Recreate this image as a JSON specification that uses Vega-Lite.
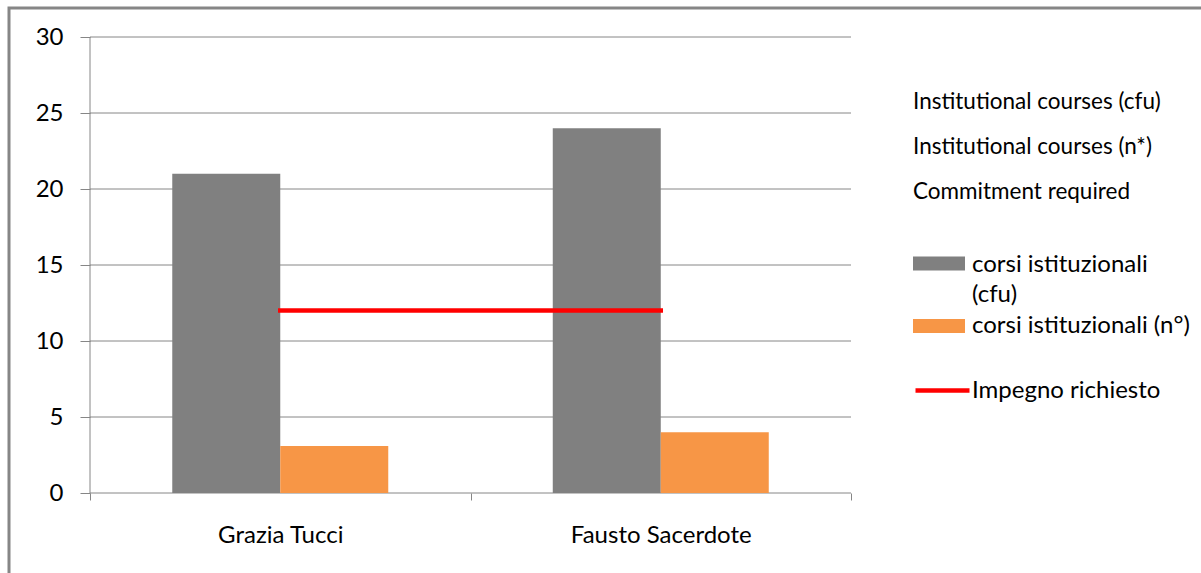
{
  "$schema": "https://vega.github.io/schema/vega-lite/v6.json",
  "width": 1202,
  "height": 575,
  "autosize": {"type": "none"},
  "padding": {"left": 9, "top": 8, "right": -10, "bottom": -10},
  "background": "white",
  "config": {
    "font": "Lato",
    "view": {"stroke": "#868686", "strokeWidth": 3}
  },
  "datasets": {
    "corsi": [
      {"persona": "Grazia Tucci", "serie": "corsi istituzionali (cfu)", "valore": 21},
      {"persona": "Grazia Tucci", "serie": "corsi istituzionali (n°)", "valore": 3.1},
      {"persona": "Fausto Sacerdote", "serie": "corsi istituzionali (cfu)", "valore": 24},
      {"persona": "Fausto Sacerdote", "serie": "corsi istituzionali (n°)", "valore": 4}
    ],
    "impegno": [
      {"persona": "Grazia Tucci", "serie": "Impegno richiesto", "valore": 12},
      {"persona": "Fausto Sacerdote", "serie": "Impegno richiesto", "valore": 12}
    ],
    "griglia": [{"v": 0}, {"v": 5}, {"v": 10}, {"v": 15}, {"v": 20}, {"v": 25}, {"v": 30}]
  },
  "layer": [
    {
      "data": {"name": "griglia"},
      "mark": {"type": "rule", "color": "#868686", "strokeWidth": 1},
      "encoding": {
        "y": {
          "field": "v",
          "type": "quantitative",
          "scale": {"domain": [-5.921, 31.908], "nice": false, "zero": false},
          "axis": {
            "values": [0, 5, 10, 15, 20, 25, 30],
            "orient": "left",
            "offset": -81,
            "domain": false,
            "grid": false,
            "tickSize": 10,
            "tickColor": "#868686",
            "labelFontSize": 24,
            "labelPadding": 17,
            "labelColor": "#000000",
            "title": null
          }
        },
        "x": {
          "datum": "Grazia Tucci",
          "type": "nominal",
          "bandPosition": 0,
          "scale": {"domain": ["Grazia Tucci", "Fausto Sacerdote"], "paddingInner": 0, "paddingOuter": 0.5795, "align": 0.1837}
        },
        "x2": {"datum": "Fausto Sacerdote", "bandPosition": 1}
      }
    },
    {
      "data": {"name": "corsi"},
      "transform": [{"filter": "datum.serie == 'corsi istituzionali (cfu)'"}],
      "mark": {"type": "bar"},
      "encoding": {
        "x": {
          "field": "persona",
          "type": "nominal",
          "scale": {"domain": ["Grazia Tucci", "Fausto Sacerdote"], "paddingInner": 0, "paddingOuter": 0.5795, "align": 0.1837},
          "axis": {
            "orient": "bottom",
            "offset": -90,
            "domain": false,
            "grid": false,
            "tickBand": "extent",
            "tickSize": 7,
            "tickColor": "#868686",
            "labelFontSize": 24,
            "labelPadding": 35,
            "labelColor": "#000000",
            "labelAngle": 0,
            "labelAlign": "center",
            "labelLimit": 0,
            "title": null
          }
        },
        "xOffset": {
          "field": "serie",
          "type": "nominal",
          "scale": {"domain": ["corsi istituzionali (cfu)", "corsi istituzionali (n°)"], "paddingInner": 0, "paddingOuter": 0.7616}
        },
        "y": {"field": "valore", "type": "quantitative", "stack": null},
        "y2": {"datum": 0},
        "color": {
          "field": "serie",
          "type": "nominal",
          "scale": {"domain": ["corsi istituzionali (cfu)"], "range": ["#808080"]},
          "legend": {
            "orient": "none",
            "legendX": 904,
            "legendY": 83,
            "padding": 0,
            "title": ["Institutional courses (cfu)", "Institutional courses (n*)", "Commitment required"],
            "titleFontSize": 22.5,
            "titleFontWeight": "normal",
            "titleLineHeight": 45,
            "titleColor": "#000000",
            "titlePadding": 34,
            "titleLimit": 0,
            "symbolType": "M-1,-0.27H1V0.27H-1Z",
            "symbolSize": 2704,
            "symbolStrokeWidth": 0,
            "symbolOpacity": 1,
            "labelFontSize": 24,
            "labelColor": "#000000",
            "labelOffset": 7,
            "labelBaseline": "alphabetic",
            "labelLimit": 0,
            "labelExpr": "['corsi istituzionali', '(cfu)']",
            "encode": {"labels": {"update": {"dy": {"value": 8}, "lineHeight": {"value": 30}}}}
          }
        }
      }
    },
    {
      "data": {"name": "corsi"},
      "transform": [{"filter": "datum.serie == 'corsi istituzionali (n°)'"}],
      "mark": {"type": "bar"},
      "encoding": {
        "x": {"field": "persona", "type": "nominal"},
        "xOffset": {"field": "serie", "type": "nominal"},
        "y": {"field": "valore", "type": "quantitative", "stack": null},
        "y2": {"datum": 0},
        "fill": {
          "field": "serie",
          "type": "nominal",
          "scale": {"domain": ["corsi istituzionali (n°)"], "range": ["#F79646"]},
          "legend": {
            "orient": "none",
            "legendX": 904,
            "legendY": 292,
            "padding": 0,
            "title": null,
            "symbolType": "M-1,-0.27H1V0.27H-1Z",
            "symbolSize": 2704,
            "symbolStrokeWidth": 0,
            "symbolOpacity": 1,
            "labelFontSize": 24,
            "labelColor": "#000000",
            "labelOffset": 7,
            "labelLimit": 0
          }
        }
      }
    },
    {
      "data": {"name": "impegno"},
      "mark": {"type": "line", "strokeWidth": 4.5, "strokeCap": "square"},
      "encoding": {
        "x": {"field": "persona", "type": "nominal"},
        "y": {"field": "valore", "type": "quantitative"},
        "stroke": {
          "field": "serie",
          "type": "nominal",
          "scale": {"range": ["#FF0000"]},
          "legend": {
            "orient": "none",
            "legendX": 904,
            "legendY": 353,
            "padding": 0,
            "title": null,
            "symbolType": "stroke",
            "symbolSize": 2916,
            "symbolStrokeWidth": 4.5,
            "labelFontSize": 24,
            "labelColor": "#000000",
            "labelOffset": 0,
            "labelLimit": 0
          }
        }
      }
    },
    {
      "data": {"values": [{"asse": "y"}]},
      "mark": {"type": "rule", "color": "#868686", "strokeWidth": 1},
      "encoding": {
        "x": {"datum": "Grazia Tucci", "type": "nominal", "bandPosition": 0},
        "y": {"datum": 0, "type": "quantitative"},
        "y2": {"datum": 30}
      }
    }
  ]
}
